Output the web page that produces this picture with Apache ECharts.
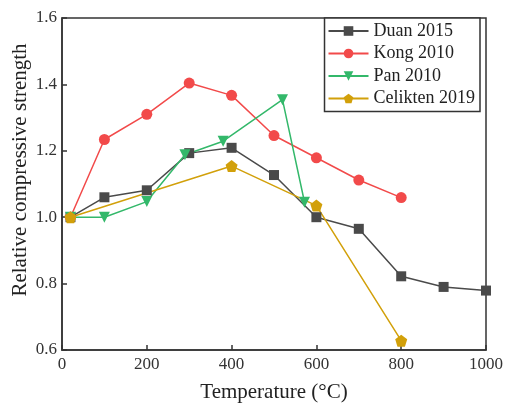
<!DOCTYPE html>
<html>
<head>
<meta charset="utf-8">
<script src="https://cdn.jsdelivr.net/npm/echarts@6/dist/echarts.min.js"></script>
<style>
  html, body { margin: 0; padding: 0; background: #fff; }
  #chart { width: 505px; height: 403px; }
</style>
</head>
<body>
<div id="chart"></div>
<script>
// Relative compressive strength after exposure to elevated temperature
const duanTemp = [20, 100, 200, 300, 400, 500, 600, 700, 800, 900, 1000];
const duanVals = [1.0, 1.06, 1.081, 1.193, 1.209, 1.127, 1.0, 0.965, 0.822, 0.79, 0.779];

const kongTemp = [20, 100, 200, 300, 400, 500, 600, 700, 800];
const kongVals = [1.0, 1.234, 1.31, 1.404, 1.367, 1.246, 1.179, 1.112, 1.059];

const panTemp = [20, 100, 200, 290, 380, 520, 572];
const panVals = [1.0, 1.0, 1.047, 1.188, 1.229, 1.354, 1.045];

const celiktenTemp = [20, 400, 600, 800];
const celiktenVals = [1.0, 1.154, 1.035, 0.628];

const xTicks = [0, 200, 400, 600, 800, 1000];
const yTicks = [0.6, 0.8, 1.0, 1.2, 1.4, 1.6];

const xTitle = 'Temperature (°C)';
const yTitle = 'Relative compressive strength';

const FONT = 'Liberation Serif';
const pentagon = 'path://M0,-1L0.951,-0.309L0.588,0.809L-0.588,0.809L-0.951,-0.309Z';

function pairs(xs, ys) { return xs.map((x, i) => [x, ys[i]]); }

function lineSeries(name, xs, ys, color, symbol, size, rotate) {
  return {
    name: name,
    type: 'line',
    data: pairs(xs, ys),
    symbol: symbol,
    symbolSize: size,
    symbolRotate: rotate || 0,
    showAllSymbol: true,
    lineStyle: { color: color, width: 1.5 },
    itemStyle: { color: color, borderWidth: 0 },
    emphasis: { disabled: true },
    animation: false
  };
}

const chart = echarts.init(document.getElementById('chart'), null, { renderer: 'canvas' });
chart.setOption({
  backgroundColor: '#fff',
  animation: false,
  grid: {
    left: 62, right: 19, top: 18, bottom: 53,
    containLabel: false, outerBoundsMode: 'none',
    show: true, borderColor: '#333', borderWidth: 1.5, backgroundColor: 'transparent'
  },
  graphic: [{
    type: 'text',
    x: 20, y: 170,
    rotation: Math.PI / 2,
    style: {
      text: yTitle,
      font: '21px "Liberation Serif"',
      fill: '#222',
      align: 'center',
      verticalAlign: 'middle'
    }
  }],
  legend: {
    right: 25, top: 18,
    orient: 'vertical',
    itemWidth: 40, itemHeight: 12, itemGap: 4.5,
    padding: [4, 5, 4, 3],
    borderColor: '#333', borderWidth: 1.5,
    backgroundColor: '#fff',
    textStyle: { fontFamily: FONT, fontSize: 18, lineHeight: 18, color: '#222' },
    data: ['Duan 2015', 'Kong 2010', 'Pan 2010', 'Celikten 2019']
  },
  xAxis: {
    type: 'value', min: 0, max: 1000, interval: 200,
    name: xTitle, nameLocation: 'middle', nameGap: 32,
    nameTextStyle: { fontFamily: FONT, fontSize: 21, color: '#222' },
    axisLine: { show: true, onZero: false, lineStyle: { color: '#333', width: 1.5 } },
    axisTick: { show: true, inside: true, length: 5, lineStyle: { color: '#333', width: 1.5 } },
    axisLabel: { fontFamily: FONT, fontSize: 17, color: '#333', margin: 6,
      formatter: v => xTicks.includes(v) ? String(v) : '' },
    splitLine: { show: false }
  },
  yAxis: {
    type: 'value', min: 0.6, max: 1.6, interval: 0.2,
    axisLine: { show: true, lineStyle: { color: '#333', width: 1.5 } },
    axisTick: { show: true, inside: true, length: 5, lineStyle: { color: '#333', width: 1.5 } },
    axisLabel: { fontFamily: FONT, fontSize: 17, color: '#333', margin: 5,
      formatter: v => {
        const t = yTicks.find(k => Math.abs(k - v) < 1e-6);
        return t === undefined ? '' : t.toFixed(1);
      } },
    splitLine: { show: false }
  },
  series: [
    lineSeries('Duan 2015', duanTemp, duanVals, '#4a4a4a', 'rect', 10),
    lineSeries('Kong 2010', kongTemp, kongVals, '#f24a4a', 'circle', 11),
    lineSeries('Pan 2010', panTemp, panVals, '#33b86a', 'triangle', 11, 180),
    lineSeries('Celikten 2019', celiktenTemp, celiktenVals, '#d2a00a', pentagon, 12)
  ]
});
</script>
</body>
</html>
